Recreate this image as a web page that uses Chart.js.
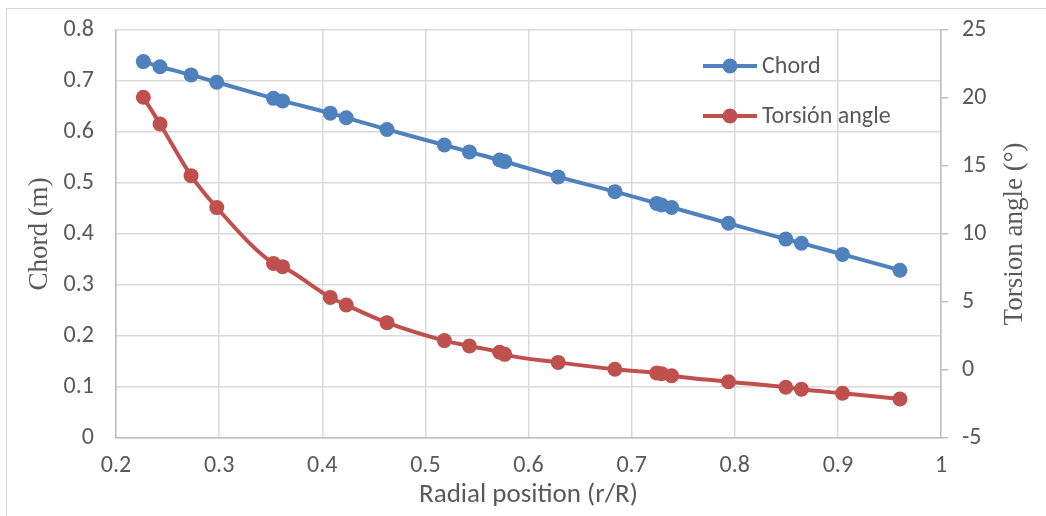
<!DOCTYPE html>
<html>
<head>
<meta charset="utf-8">
<script src="https://cdn.jsdelivr.net/npm/chart.js@4"></script>
<style>
  html, body { margin: 0; padding: 0; background: #fff; }
  #wrap { position: relative; width: 1046px; height: 516px; }
  #frame { position: absolute; left: 6px; top: 8px; width: 1060px; height: 530px;
           border-left: 1px solid #d9d9d9; border-top: 1px solid #d9d9d9; }
  canvas { position: absolute; left: 0; top: 0; }
</style>
</head>
<body>
<div id="wrap">
  <div id="frame"></div>
  <canvas id="bladeChart" width="1046" height="516"></canvas>
</div>
<script>
const radialPos = [0.2265, 0.2427, 0.2728, 0.2977, 0.3527, 0.3615, 0.4078, 0.4233, 0.4628, 0.5184, 0.5427,
                   0.572, 0.577, 0.6288, 0.6838, 0.7243, 0.729, 0.7388, 0.7939, 0.8495, 0.8647, 0.9045, 0.9602];
const chord = [0.738, 0.728, 0.712, 0.6975, 0.666, 0.661, 0.637, 0.628, 0.605, 0.5745, 0.561,
               0.545, 0.542, 0.512, 0.483, 0.460, 0.457, 0.452, 0.421, 0.390, 0.382, 0.360, 0.329];
const torsion = [20.05, 18.09, 14.29, 11.94, 7.84, 7.60, 5.34, 4.78, 3.48, 2.16, 1.76,
                 1.30, 1.15, 0.56, 0.05, -0.22, -0.27, -0.42, -0.86, -1.27, -1.42, -1.71, -2.13];
const seriesNames = ['Chord', 'Torsión angle'];
const seriesColors = ['#4f81bd', '#c0504d'];
const rightTitle = 'Torsion angle (°)';

const sansFont = "Carlito, 'Liberation Sans Narrow', 'Open Sans', sans-serif";
const serifFont = "'Liberation Serif', 'DejaVu Serif', serif";
const textColor = '#595959';

const toPoints = (vals) => radialPos.map((x, i) => ({ x: x, y: vals[i] }));

// legend sits inside the plot area, top right; right axis title reads bottom-to-top like Excel
const extras = {
    id: 'extras',
    afterDraw(chart) {
        const ctx = chart.ctx;
        const rows = [66, 116];
        ctx.save();
        chart.data.datasets.forEach((ds, i) => {
            const y = rows[i];
            ctx.strokeStyle = ds.borderColor;
            ctx.lineWidth = 4;
            ctx.beginPath();
            ctx.moveTo(703, y);
            ctx.lineTo(757, y);
            ctx.stroke();
            ctx.fillStyle = ds.backgroundColor;
            ctx.beginPath();
            ctx.arc(730, y, 7.5, 0, Math.PI * 2);
            ctx.fill();
            ctx.fillStyle = textColor;
            ctx.font = '24px ' + sansFont;
            ctx.textBaseline = 'middle';
            ctx.fillText(ds.label, 762, y + 1);
        });

        const area = chart.chartArea;
        ctx.translate(1015, (area.top + area.bottom) / 2);
        ctx.rotate(-Math.PI / 2);
        ctx.font = '27px ' + serifFont;
        ctx.textAlign = 'center';
        ctx.textBaseline = 'middle';
        ctx.fillStyle = textColor;
        ctx.fillText(rightTitle, 0, 0);
        ctx.restore();
    }
};

const ctx = document.getElementById('bladeChart').getContext('2d');

new Chart(ctx, {
    type: 'line',
    data: {
        datasets: [{
            label: seriesNames[0],
            data: toPoints(chord),
            yAxisID: 'y',
            borderColor: seriesColors[0],
            backgroundColor: seriesColors[0],
            borderWidth: 4,
            pointRadius: 7.5,
            pointBorderWidth: 0,
            cubicInterpolationMode: 'monotone'
        }, {
            label: seriesNames[1],
            data: toPoints(torsion),
            yAxisID: 'y1',
            borderColor: seriesColors[1],
            backgroundColor: seriesColors[1],
            borderWidth: 4,
            pointRadius: 7.5,
            pointBorderWidth: 0,
            cubicInterpolationMode: 'monotone'
        }]
    },
    options: {
        responsive: false,
        animation: false,
        layout: { padding: { top: 30, left: 0, right: 0, bottom: 0 } },
        plugins: {
            legend: { display: false },
            tooltip: { enabled: false }
        },
        scales: {
            x: {
                type: 'linear',
                min: 0.2,
                max: 1,
                ticks: {
                    stepSize: 0.1,
                    color: textColor,
                    font: { family: sansFont, size: 24 },
                    padding: 14,
                    callback: (v) => Number(v.toFixed(1)).toString()
                },
                grid: { color: '#d9d9d9', lineWidth: 1.5, drawTicks: false },
                border: { color: '#bfbfbf', width: 1.5 },
                title: {
                    display: true,
                    text: 'Radial position (r/R)',
                    color: textColor,
                    font: { family: sansFont, size: 27 },
                    padding: { top: 0, bottom: 5 }
                },
                afterFit: (scale) => { scale.height = 78; }
            },
            y: {
                position: 'left',
                min: 0,
                max: 0.8,
                ticks: {
                    stepSize: 0.1,
                    color: textColor,
                    font: { family: sansFont, size: 24 },
                    padding: 22,
                    callback: (v) => Number(v.toFixed(1)).toString()
                },
                grid: { color: '#d9d9d9', lineWidth: 1.5, drawTicks: false },
                border: { color: '#bfbfbf', width: 1.5 },
                title: {
                    display: true,
                    text: 'Chord (m)',
                    color: textColor,
                    font: { family: serifFont, size: 27 },
                    padding: { top: 24, bottom: 0 }
                },
                afterFit: (scale) => {
                    scale.width = 116;
                    scale.paddingTop = 0;
                    scale.paddingBottom = 0;
                }
            },
            y1: {
                position: 'right',
                min: -5,
                max: 25,
                ticks: {
                    stepSize: 5,
                    color: textColor,
                    font: { family: sansFont, size: 24 },
                    padding: 14
                },
                grid: { drawOnChartArea: false, color: '#bfbfbf', tickLength: 7, lineWidth: 1.5 },
                border: { color: '#bfbfbf', width: 1.5 },
                afterFit: (scale) => {
                    scale.width = 105;
                    scale.paddingTop = 0;
                    scale.paddingBottom = 0;
                }
            }
        }
    },
    plugins: [extras]
});
</script>
</body>
</html>
